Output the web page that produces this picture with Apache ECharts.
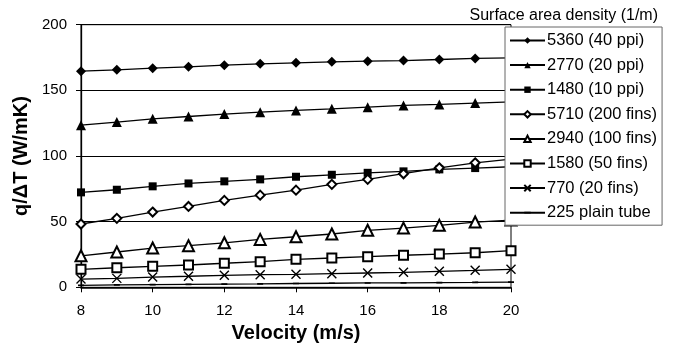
<!DOCTYPE html>
<html>
<head>
<meta charset="utf-8">
<script src="https://cdn.jsdelivr.net/npm/echarts@6/dist/echarts.min.js"></script>
<style>
  html, body { margin: 0; padding: 0; background: #fff; }
  #chart { width: 673px; height: 345px; }
</style>
</head>
<body>
<div id="chart"></div>
<script>
// velocity (m/s)
const velocity = [8, 9, 10, 11, 12, 13, 14, 15, 16, 17, 18, 19, 20];

// q/dT (W/mK) per surface area density
const s5360 = [164.6, 165.6, 166.9, 167.9, 169.2, 170.2, 171.0, 171.7, 172.2, 172.7, 173.5, 174.3, 174.8];
const s2770 = [123.5, 125.8, 128.3, 130.1, 131.9, 133.4, 134.7, 135.9, 137.2, 138.5, 139.3, 140.3, 141.2];
const s1480 = [72.3, 74.3, 76.9, 79.1, 80.7, 82.2, 84.2, 85.7, 87.2, 88.3, 89.8, 90.8, 91.8];
const s5710 = [48.2, 52.5, 57.3, 61.6, 66.2, 70.2, 74.0, 78.4, 82.2, 86.5, 91.0, 94.8, 97.6];
const s2940 = [24.0, 26.9, 29.9, 31.7, 33.9, 36.5, 38.5, 40.6, 43.4, 45.1, 47.2, 49.7, 51.2];
const s1580 = [13.7, 14.9, 16.0, 17.0, 18.3, 19.5, 21.3, 22.3, 23.3, 24.4, 25.3, 26.3, 27.9];
const s770 = [6.3, 6.8, 7.8, 8.4, 9.1, 9.6, 9.9, 10.4, 10.9, 11.4, 12.2, 12.9, 13.7];
const s225 = [1.5, 1.8, 2.0, 2.2, 2.4, 2.6, 2.9, 3.1, 3.3, 3.4, 3.6, 3.7, 3.9];

const seriesNames = ['5360 (40 ppi)', '2770 (20 ppi)', '1480 (10 ppi)', '5710 (200 fins)',
  '2940 (100 fins)', '1580 (50 fins)', '770 (20 fins)', '225 plain tube'];

const font = 'Liberation Sans, Arial, sans-serif';
const cross = 'path://M0,0L10,10M10,0L0,10';
// flat dash inside a square box, so the legend icon keeps it thin
const dash = 'path://M0,0L0.01,0ZM0,3.6L10,3.6L10,6.4L0,6.4ZM10,10L9.99,10Z';

function pairs(vals) {
  return vals.map((y, i) => [velocity[i], y]);
}

function line(name, vals, symbol, size, extra) {
  return Object.assign({
    name: name,
    type: 'line',
    data: pairs(vals),
    symbol: symbol,
    symbolSize: size,
    showAllSymbol: true,
    color: '#000',
    lineStyle: { color: '#000', width: 1.3 },
    itemStyle: { color: '#000' },
    animation: false
  }, extra || {});
}

const chart = echarts.init(document.getElementById('chart'), null, { renderer: 'canvas' });

chart.setOption({
  backgroundColor: '#fff',
  textStyle: { fontFamily: font, color: '#000' },
  title: {
    text: 'Surface area density (1/m)',
    right: 10,
    top: 3,
    textStyle: { fontFamily: font, fontSize: 16, fontWeight: 'normal', color: '#000' }
  },
  legend: {
    orient: 'vertical',
    left: 505,
    top: 27,
    data: seriesNames,
    backgroundColor: '#fff',
    borderColor: '#666',
    borderWidth: 1,
    padding: [5, 5, 4, 4],
    itemWidth: 35,
    itemHeight: 8,
    itemGap: 7.6,
    textStyle: { fontFamily: font, fontSize: 16.5, color: '#000', padding: [0, 0, 0, -3] }
  },
  grid: {
    left: 81,
    right: 162,
    top: 24.7,
    bottom: 57.7,
    outerBoundsMode: 'none',
    containLabel: false,
    show: true,
    borderColor: '#000',
    borderWidth: 1
  },
  xAxis: {
    type: 'value',
    min: 8,
    max: 20,
    interval: 2,
    name: 'Velocity (m/s)',
    nameLocation: 'middle',
    nameGap: 36,
    nameTextStyle: { fontFamily: font, fontSize: 20, fontWeight: 'bold', color: '#000', verticalAlign: 'top' },
    axisLine: { lineStyle: { color: '#000', width: 1.5 } },
    axisTick: { show: true, length: 5, lineStyle: { color: '#000' } },
    axisLabel: { fontFamily: font, fontSize: 15, color: '#000', margin: 16 },
    splitLine: { show: false }
  },
  yAxis: {
    type: 'value',
    min: 0,
    max: 200,
    interval: 50,
    name: 'q/\u0394T (W/mK)',
    nameLocation: 'middle',
    nameGap: 44,
    nameTextStyle: { fontFamily: font, fontSize: 20, fontWeight: 'bold', color: '#000' },
    axisLine: { show: true, lineStyle: { color: '#000', width: 1.3 } },
    axisTick: { show: true, length: 5, lineStyle: { color: '#000' } },
    axisLabel: { fontFamily: font, fontSize: 15, color: '#000', margin: 14 },
    splitLine: { show: true, lineStyle: { color: '#000', width: 1 } }
  },
  series: [
    line(seriesNames[0], s5360, 'diamond', 10),
    line(seriesNames[1], s2770, 'triangle', 10),
    line(seriesNames[2], s1480, 'rect', 8),
    line(seriesNames[3], s5710, 'emptyDiamond', 9),
    line(seriesNames[4], s2940, 'emptyTriangle', 11),
    line(seriesNames[5], s1580, 'emptyRect', 9),
    line(seriesNames[6], s770, cross, 9, { itemStyle: { color: '#000', borderColor: '#000', borderWidth: 1.4 } }),
    line(seriesNames[7], s225, dash, 6)
  ]
});
</script>
</body>
</html>
